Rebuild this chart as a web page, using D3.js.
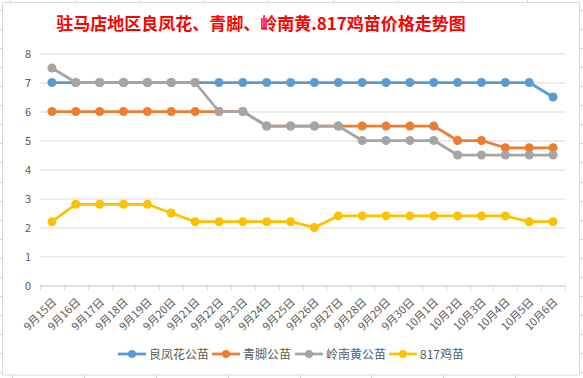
<!DOCTYPE html>
<html>
<head>
<meta charset="utf-8">
<script src="https://cdn.jsdelivr.net/npm/d3@7"></script>
<style>
  html, body { margin: 0; padding: 0; background: #fff; }
  #chart { width: 583px; height: 378px; }
</style>
</head>
<body>
<div id="chart"></div>
<script>
// Data
const categories = [
    '9月15日', '9月16日', '9月17日', '9月18日', '9月19日', '9月20日', '9月21日', '9月22日',
    '9月23日', '9月24日', '9月25日', '9月26日', '9月27日', '9月28日', '9月29日', '9月30日',
    '10月1日', '10月2日', '10月3日', '10月4日', '10月5日', '10月6日'
];
const liangfenghua = [7, 7, 7, 7, 7, 7, 7, 7, 7, 7, 7, 7, 7, 7, 7, 7, 7, 7, 7, 7, 7, 6.5];
const qingjiao = [6, 6, 6, 6, 6, 6, 6, 6, 6, 5.5, 5.5, 5.5, 5.5, 5.5, 5.5, 5.5, 5.5, 5, 5, 4.75, 4.75, 4.75];
const lingnanhuang = [7.5, 7, 7, 7, 7, 7, 7, 6, 6, 5.5, 5.5, 5.5, 5.5, 5, 5, 5, 5, 4.5, 4.5, 4.5, 4.5, 4.5];
const ji817 = [2.2, 2.8, 2.8, 2.8, 2.8, 2.5, 2.2, 2.2, 2.2, 2.2, 2.2, 2.0, 2.4, 2.4, 2.4, 2.4, 2.4, 2.4, 2.4, 2.4, 2.2, 2.2];
const yTicks = [0, 1, 2, 3, 4, 5, 6, 7, 8];
const seriesNames = ['良凤花公苗', '青脚公苗', '岭南黄公苗', '817鸡苗'];
const chartTitle = '驻马店地区良凤花、青脚、岭南黄.817鸡苗价格走势图';

const series = [
    { name: seriesNames[0], values: liangfenghua, color: '#5B9BD5' },
    { name: seriesNames[1], values: qingjiao, color: '#ED7D31' },
    { name: seriesNames[2], values: lingnanhuang, color: '#A5A5A5' },
    { name: seriesNames[3], values: ji817, color: '#FFC000' }
];

const width = 583, height = 378;
const font = "'Microsoft YaHei', 'Noto Sans CJK SC', sans-serif";
const gridColor = '#d9d9d9';
const textColor = '#595959';

const svg = d3.select('#chart').append('svg')
    .attr('width', width).attr('height', height)
    .style('display', 'block')
    .style('font-family', font);

// spreadsheet cell lines peeking out around the chart
const sheet = svg.append('g').attr('stroke', '#d4d4d4').attr('stroke-width', 1);
for (let y = 10; y < height - 3; y += 19.06) {
    sheet.append('line').attr('x1', 0).attr('x2', 3).attr('y1', Math.round(y) + 0.5).attr('y2', Math.round(y) + 0.5);
    sheet.append('line').attr('x1', 580).attr('x2', 583).attr('y1', Math.round(y) + 0.5).attr('y2', Math.round(y) + 0.5);
}
for (let x = 10; x < 580; x += 64.6) {
    sheet.append('line').attr('x1', Math.round(x) + 0.5).attr('x2', Math.round(x) + 0.5).attr('y1', 0).attr('y2', 2);
}
for (let x = 12.3; x < 580; x += 71.8) {
    sheet.append('line').attr('x1', Math.round(x) + 0.5).attr('x2', Math.round(x) + 0.5).attr('y1', 375).attr('y2', 378);
}

// chart border
svg.append('rect')
    .attr('x', 2.5).attr('y', 2.5).attr('width', 577).attr('height', 372.5)
    .attr('fill', '#fff').attr('stroke', gridColor);

// title
svg.append('text')
    .attr('x', 261).attr('y', 30)
    .attr('text-anchor', 'middle')
    .attr('fill', '#FF0000')
    .style('font-size', '17px').style('font-weight', 'bold')
    .text(chartTitle);

// scales
const x = d3.scaleBand().domain(categories).range([40, 565]).padding(0);
const y = d3.scaleLinear().domain([0, 8]).range([285.5, 53.5]);

// horizontal gridlines + y labels
svg.append('g')
    .attr('transform', 'translate(40,0)')
    .call(d3.axisLeft(y).tickValues(yTicks).tickSize(-525).tickPadding(9))
    .call(g => g.select('.domain').remove())
    .call(g => g.selectAll('line').attr('stroke', gridColor))
    .call(g => g.selectAll('text').attr('fill', textColor).style('font-size', '11px').style('font-family', font));

// x axis
const xAxis = svg.append('g')
    .attr('transform', 'translate(0,285.5)')
    .call(d3.axisBottom(x).tickSize(0).tickSizeOuter(0))
    .call(g => g.select('.domain').attr('stroke', gridColor));
xAxis.selectAll('.tick line').remove();
xAxis.selectAll('.tick text')
    .attr('fill', textColor)
    .style('font-size', '11px').style('font-family', font)
    .attr('text-anchor', 'end')
    .attr('dy', 0)
    .attr('transform', 'translate(3,15) rotate(-45)');

// tick marks on category boundaries
svg.append('g').selectAll('line')
    .data(d3.range(categories.length + 1))
    .join('line')
    .attr('x1', i => Math.round(40 + i * x.bandwidth()) + 0.5)
    .attr('x2', i => Math.round(40 + i * x.bandwidth()) + 0.5)
    .attr('y1', 285.5).attr('y2', 290.5)
    .attr('stroke', gridColor);

// lines + markers
const line = d3.line()
    .x((d, i) => x(categories[i]) + x.bandwidth() / 2)
    .y(d => y(d));

series.forEach(s => {
    const g = svg.append('g');
    g.append('path').datum(s.values)
        .attr('fill', 'none').attr('stroke', s.color)
        .attr('stroke-width', 2.75).attr('stroke-linejoin', 'round')
        .attr('d', line);
    g.selectAll('circle').data(s.values).join('circle')
        .attr('cx', (d, i) => x(categories[i]) + x.bandwidth() / 2)
        .attr('cy', d => y(d))
        .attr('r', 4.5)
        .attr('fill', s.color);
});

// legend
const legendX = [118, 212, 295, 389];
const legend = svg.append('g').attr('transform', 'translate(0,354)');
series.forEach((s, i) => {
    const lg = legend.append('g').attr('transform', `translate(${legendX[i]},0)`);
    lg.append('line').attr('x1', 0).attr('x2', 28).attr('y1', 0).attr('y2', 0)
        .attr('stroke', s.color).attr('stroke-width', 2.75);
    lg.append('circle').attr('cx', 14).attr('cy', 0).attr('r', 4).attr('fill', s.color);
    lg.append('text').attr('x', 31).attr('y', 4.5)
        .attr('fill', textColor).style('font-size', '12px')
        .text(s.name);
});
</script>
</body>
</html>
